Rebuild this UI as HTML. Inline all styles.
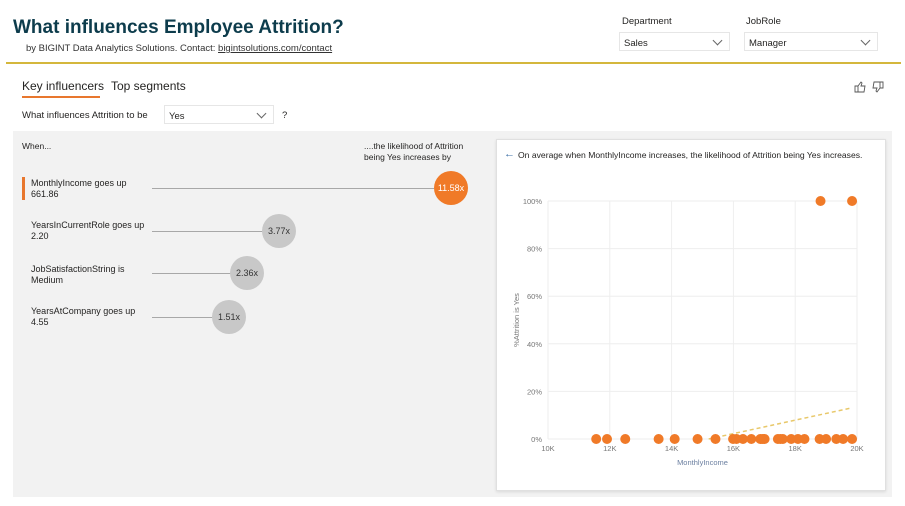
<!DOCTYPE html>
<html><head><meta charset="utf-8"><style>
body{margin:0;width:905px;height:506px;background:#fff;font-family:"Liberation Sans",sans-serif;position:relative;overflow:hidden}
.a{position:absolute;white-space:nowrap}
.dd{position:absolute;border:1px solid #e6e6e6;background:#fff;font-size:9.5px;color:#252423;box-sizing:border-box;padding:5px 4px}
.dd:after{content:"";position:absolute;right:8px;top:4px;width:6px;height:6px;border-right:1px solid #666;border-bottom:1px solid #666;transform:rotate(45deg)}
.lbl{font-size:9px;color:#252423;line-height:11px}
.bub{position:absolute;border-radius:50%;display:flex;align-items:center;justify-content:center;font-size:9px;color:#333}
.ln{position:absolute;height:1px;background:#a8a8a8}
</style></head><body>
<div class="a" style="left:13px;top:17px;font-size:19px;font-weight:bold;color:#0d3c4c;letter-spacing:0px">What influences Employee Attrition?</div>
<div class="a" style="left:26px;top:43px;font-size:9.5px;color:#333">by BIGINT Data Analytics Solutions. Contact: <span style="text-decoration:underline;color:#333">bigintsolutions.com/contact</span></div>
<div class="a" style="left:622px;top:16px;font-size:9.5px;color:#252423">Department</div>
<div class="dd" style="left:619px;top:32px;width:111px;height:19px">Sales</div>
<div class="a" style="left:746px;top:16px;font-size:9.5px;color:#252423">JobRole</div>
<div class="dd" style="left:744px;top:32px;width:134px;height:19px">Manager</div>
<div class="a" style="left:6px;top:62px;width:895px;height:2px;background:#d4b73c"></div>
<div class="a" style="left:22px;top:79px;font-size:12px;color:#252423">Key influencers</div>
<div class="a" style="left:22px;top:96px;width:78px;height:2px;background:#e8772e"></div>
<div class="a" style="left:111px;top:79px;font-size:12px;color:#252423">Top segments</div>
<svg class="a" style="left:854px;top:80px" width="30" height="14"><path d="M1 6h3v6H1zM4 6l3-4 1 1-1 3h4l-1 6H4" fill="none" stroke="#555" stroke-width="0.9"/><path d="M29 8h-3V2h3zM26 8l-3 4-1-1 1-3h-4l1-6h6" fill="none" stroke="#555" stroke-width="0.9"/></svg>
<div class="a" style="left:22px;top:110px;font-size:9.5px;color:#252423">What influences Attrition to be</div>
<div class="dd" style="left:164px;top:105px;width:110px;height:19px">Yes</div>
<div class="a" style="left:282px;top:110px;font-size:9.5px;color:#252423">?</div>
<div class="a" style="left:13px;top:131px;width:879px;height:366px;background:#f2f2f2"></div>
<div class="a lbl" style="left:22px;top:141px;font-size:8.5px">When...</div>
<div class="a lbl" style="left:364px;top:141px;font-size:8.5px">....the likelihood of Attrition<br>being Yes increases by</div>
<div class="a" style="left:22px;top:177px;width:3px;height:23px;background:#e8772e"></div>
<div class="a lbl" style="left:31px;top:178px">MonthlyIncome goes up<br>661.86</div>
<div class="ln" style="left:152px;top:188px;width:282px"></div>
<div class="bub" style="left:434px;top:171px;width:34px;height:34px;background:#f07a28;color:#fff">11.58x</div>
<div class="a lbl" style="left:31px;top:220px">YearsInCurrentRole goes up<br>2.20</div>
<div class="ln" style="left:152px;top:231px;width:111px"></div>
<div class="bub" style="left:262px;top:214px;width:34px;height:34px;background:#c8c8c8">3.77x</div>
<div class="a lbl" style="left:31px;top:264px">JobSatisfactionString is<br>Medium</div>
<div class="ln" style="left:152px;top:273px;width:79px"></div>
<div class="bub" style="left:230px;top:256px;width:34px;height:34px;background:#c8c8c8">2.36x</div>
<div class="a lbl" style="left:31px;top:306px">YearsAtCompany goes up<br>4.55</div>
<div class="ln" style="left:152px;top:317px;width:61px"></div>
<div class="bub" style="left:212px;top:300px;width:34px;height:34px;background:#c8c8c8">1.51x</div>
<div class="a" style="left:496px;top:139px;width:390px;height:352px;background:#fff;border:1px solid #e0e0e0;box-sizing:border-box;box-shadow:0 1px 3px rgba(0,0,0,0.1)"></div>
<div class="a" style="left:504px;top:148px;font-size:11px;color:#3a6ea5">&#8592;</div>
<div class="a" style="left:518px;top:150px;font-size:8.6px;color:#252423">On average when MonthlyIncome increases, the likelihood of Attrition being Yes increases.</div>
<svg class="a" style="left:0;top:0" width="905" height="506" id="chart"></svg>
<script>
const xTicks=[10,12,14,16,18,20];
const yTicks=[0,20,40,60,80,100];
const incomes=[11.56,11.91,12.5,13.58,14.1,14.84,15.42,15.99,16.1,16.31,16.58,16.87,16.95,17.01,17.44,17.52,17.6,17.87,18.09,18.3,18.79,19.0,19.33,19.55,19.84,18.82,19.84];
const attrition=[0,0,0,0,0,0,0,0,0,0,0,0,0,0,0,0,0,0,0,0,0,0,0,0,0,100,100];
const trendX=[15.2,19.8];
const trendY=[0,13];
const X0=548,X1=857,Y0=439,Y1=201;
const sx=v=>X0+(v-10)/10*(X1-X0);
const sy=v=>Y0-v/100*(Y0-Y1);
const svg=document.getElementById('chart');
const NS='http://www.w3.org/2000/svg';
function mk(t,a){const e=document.createElementNS(NS,t);for(const k in a)e.setAttribute(k,a[k]);svg.appendChild(e);return e;}
yTicks.forEach(v=>{
 const l=mk('line',{x1:X0,x2:X1,y1:sy(v),y2:sy(v),stroke:'#eeeeee'});
 
 
 const t=mk('text',{x:X0-6,y:sy(v)+3,'text-anchor':'end','font-size':7.5,fill:'#777','font-family':'Liberation Sans'});
 t.textContent=v+'%';
 
 
});
xTicks.forEach(v=>{
 const l=mk('line',{x1:sx(v),x2:sx(v),y1:Y1,y2:Y0,stroke:'#eeeeee'});
 
 
 const t=mk('text',{x:sx(v),y:Y0+12,'text-anchor':'middle','font-size':7.5,fill:'#777','font-family':'Liberation Sans'});
 t.textContent=v+'K';
 
 
});
const xt=mk('text',{x:(X0+X1)/2,y:465,'text-anchor':'middle','font-size':7.5,fill:'#6b7fa0','font-family':'Liberation Sans'});
xt.textContent='MonthlyIncome';


const yt=mk('text',{x:0,y:0,'text-anchor':'middle','font-size':7.5,fill:'#777','font-family':'Liberation Sans',transform:`translate(519,${(Y0+Y1)/2}) rotate(-90)`});
yt.textContent='%Attrition is Yes';


const tl=mk('line',{x1:sx(trendX[0]),y1:sy(trendY[0]),x2:sx(trendX[1]),y2:sy(trendY[1]),stroke:'#e8c86a','stroke-width':1.5,'stroke-dasharray':'4,3'});


incomes.forEach((v,i)=>{
 const c=mk('circle',{cx:sx(v),cy:sy(attrition[i]),r:5,fill:'#f07a28'});
 
 
});
</script>
</body></html>
